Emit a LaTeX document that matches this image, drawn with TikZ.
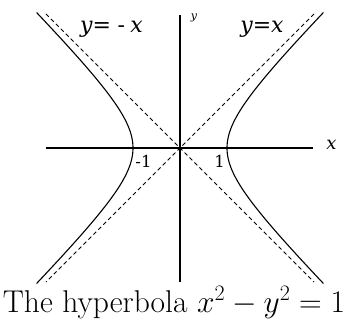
\RequirePackage{fix-cm}
\documentclass[tikz,border=0pt]{standalone}
\usepackage{fontspec}
\newfontfamily\labfont{DejaVu Serif}
\tikzset{
  axis/.style={line width=1.5pt},
  curve/.style={line width=1.1pt},
  asym/.style={line width=0.9pt, dash pattern=on 4pt off 3pt},
  lab/.style={inner sep=0pt, anchor=base},
}
\begin{document}
\begin{tikzpicture}[x=1pt,y=-1pt]
\useasboundingbox (0,0) rectangle (345,320);
\coordinate (O) at (180,148);
\coordinate (xl) at (46,148);
\coordinate (xr) at (313,148);
\coordinate (yt) at (180,15);
\coordinate (yb) at (180,282);
\coordinate (a1) at (46,14);
\coordinate (a2) at (314,282);
\coordinate (b1) at (314,14);
\coordinate (b2) at (46,282);
\draw[axis] (xl) -- (xr);
\draw[axis] (yb) -- (yt);
\draw[asym] (a1) -- (a2);
\draw[asym] (b1) -- (b2);
\begin{scope}[shift={(O)}, x=47pt, y=47pt]
  \draw[curve] plot[domain=-1.7806:1.7806, samples=80, smooth, variable=\t] ({cosh(\t)},{sinh(\t)});
  \draw[curve] plot[domain=-1.7806:1.7806, samples=80, smooth, variable=\t] ({-cosh(\t)},{sinh(\t)});
\end{scope}
\fill (O) circle (1.8pt);
\node[lab] (lneg) at (111.5,32.5) {\labfont\fontsize{22}{24}\selectfont\itshape y\upshape=\hspace{0.3em}-\hspace{0.25em}\itshape x};
\node[lab] (lpos) at (262,32.5) {\labfont\fontsize{22}{24}\selectfont\itshape y\upshape=\itshape x};
\node[lab] (ly) at (194,20) {\labfont\fontsize{11}{12}\selectfont\itshape y};
\node[lab] (lx) at (331.5,150) {\labfont\fontsize{18}{20}\selectfont\itshape x};
\node[lab] (lm1) at (143.5,168) {\labfont\fontsize{16.5}{18}\selectfont -1};
\node[lab] (lp1) at (219.5,168) {\labfont\fontsize{16.5}{18}\selectfont 1};
\node[inner sep=0pt, anchor=base] (cap) at (174,312) {\fontsize{31.5}{33}\selectfont The hyperbola $x^2-y^2=1$};
\end{tikzpicture}
\end{document}
